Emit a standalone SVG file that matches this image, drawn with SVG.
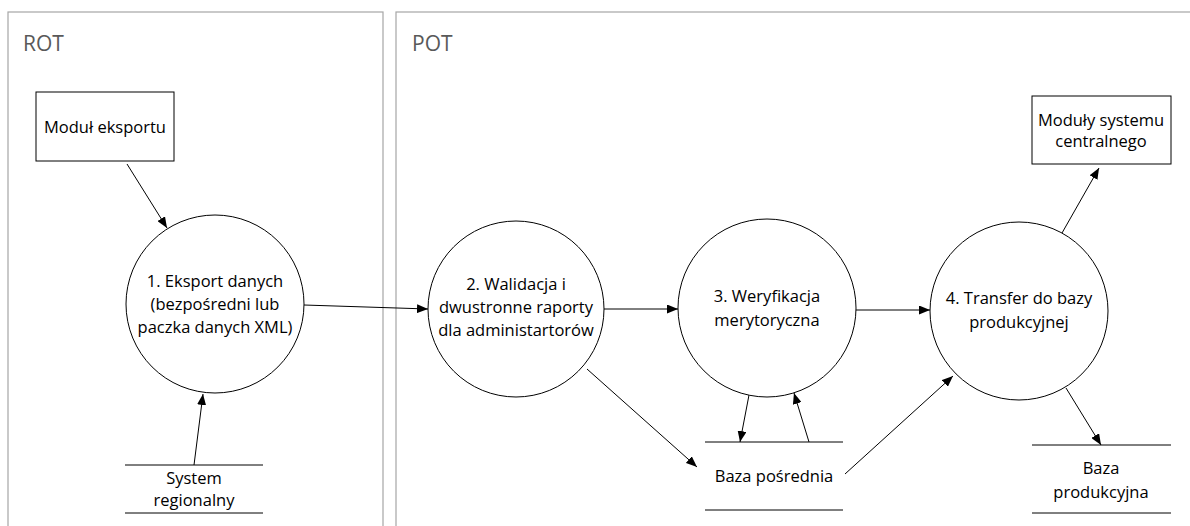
<svg xmlns="http://www.w3.org/2000/svg" width="1190" height="526" viewBox="0 0 1190 526">
<style>
.frame{fill:none;stroke:#a6a6a6;stroke-width:1.2}
.flabel{font-family:"Open Sans",sans-serif;font-size:21px;fill:#595959}
.shape{fill:#fff;stroke:#000;stroke-width:1}
.store{stroke:#000;stroke-width:1}
.t{font-family:"Open Sans",sans-serif;font-size:16.5px;fill:#000;text-anchor:middle}
.c{fill:none;stroke:#000;stroke-width:1;marker-end:url(#ah)}
</style>
<defs>
<marker id="ah" markerUnits="userSpaceOnUse" markerWidth="11" markerHeight="9" refX="11" refY="4.5" orient="auto">
<path d="M0,0 L11,4.5 L0,9 Z" fill="#000"/>
</marker>
</defs>
<rect width="1190" height="526" fill="#fff"/>
<g id="frame-rot"><rect class="frame" x="8" y="12" width="375" height="530"/><text class="flabel" x="23" y="51">ROT</text></g>
<g id="frame-pot"><rect class="frame" x="396" y="12" width="820" height="530"/><text class="flabel" x="412" y="51">POT</text></g>

<g id="connectors">
<line class="c" x1="127" y1="164" x2="167" y2="228"/>
<line class="c" x1="194" y1="465" x2="203" y2="394"/>
<line class="c" x1="304" y1="305" x2="428" y2="309"/>
<line class="c" x1="604" y1="309" x2="678" y2="309"/>
<line class="c" x1="587" y1="369" x2="697" y2="467"/>
<line class="c" x1="749" y1="395" x2="740" y2="442"/>
<line class="c" x1="809" y1="442" x2="794" y2="393"/>
<line class="c" x1="856" y1="310" x2="930" y2="310"/>
<line class="c" x1="845" y1="474" x2="953" y2="376"/>
<line class="c" x1="1062" y1="233" x2="1099" y2="168"/>
<line class="c" x1="1066" y1="388" x2="1101" y2="445"/>
</g>

<g id="modul-eksportu"><rect class="shape" x="36" y="92" width="138" height="69"/><text class="t" x="105" y="133">Moduł eksportu</text></g>
<g id="p1"><circle class="shape" cx="215" cy="304" r="89"/><text class="t" x="215" y="287">1. Eksport danych</text><text class="t" x="215" y="310">(bezpośredni lub</text><text class="t" x="215" y="333">paczka danych XML)</text></g>
<g id="system-regionalny"><line class="store" x1="125" y1="465" x2="263" y2="465"/><line class="store" x1="125" y1="513" x2="263" y2="513"/><text class="t" x="194" y="484">System</text><text class="t" x="194" y="506">regionalny</text></g>
<g id="p2"><circle class="shape" cx="516" cy="309" r="88"/><text class="t" x="516" y="290">2. Walidacja i</text><text class="t" x="516" y="313">dwustronne raporty</text><text class="t" x="516" y="336">dla administartorów</text></g>
<g id="p3"><circle class="shape" cx="767" cy="308" r="89"/><text class="t" x="767" y="302">3. Weryfikacja</text><text class="t" x="767" y="326">merytoryczna</text></g>
<g id="baza-posrednia"><line class="store" x1="705" y1="442" x2="843" y2="442"/><line class="store" x1="705" y1="510" x2="843" y2="510"/><text class="t" x="774" y="482">Baza pośrednia</text></g>
<g id="p4"><circle class="shape" cx="1019" cy="311" r="89"/><text class="t" x="1019" y="304">4. Transfer do bazy</text><text class="t" x="1019" y="328">produkcyjnej</text></g>
<g id="moduly-systemu"><rect class="shape" x="1032" y="96" width="139" height="68"/><text class="t" x="1101" y="126">Moduły systemu</text><text class="t" x="1101" y="147">centralnego</text></g>
<g id="baza-produkcyjna"><line class="store" x1="1032" y1="445" x2="1171" y2="445"/><line class="store" x1="1032" y1="513" x2="1171" y2="513"/><text class="t" x="1101" y="474">Baza</text><text class="t" x="1101" y="498">produkcyjna</text></g>
</svg>
